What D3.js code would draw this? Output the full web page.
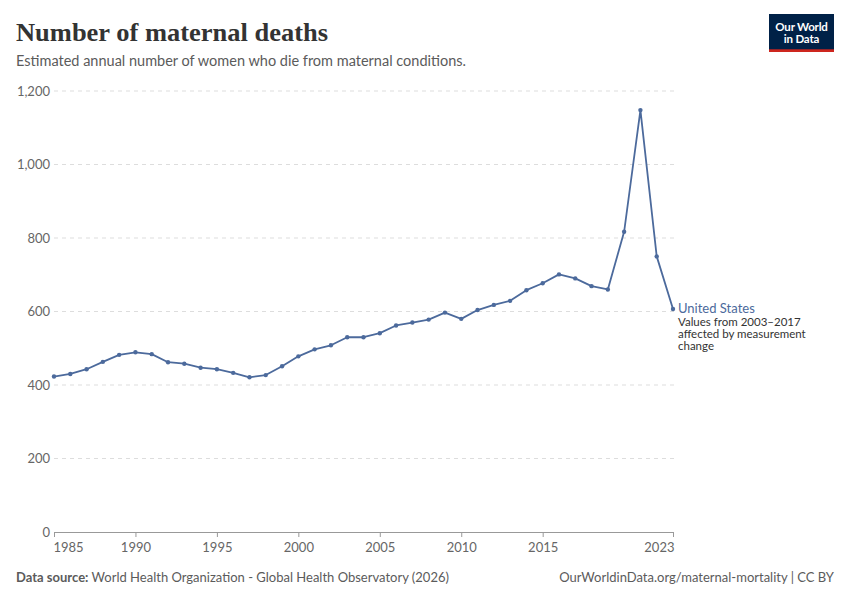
<!DOCTYPE html>
<html><head><meta charset="utf-8">
<script src="https://cdn.jsdelivr.net/npm/d3@7"></script>
<style>body{margin:0;background:#fff}svg{display:block}</style>
</head><body>
<svg id="c" width="850" height="600"></svg>
<script>
const years = d3.range(1985, 2024);
const deaths = [423,430,443,463,482,489,484,462,458,447,443,433,421,427,451,478,497,508,530,530,541,562,570,578,597,580,604,618,629,658,677,701,690,669,660,817,1148,750,607];
const yTicks = [0,200,400,600,800,1000,1200];
const xTicks = [1985,1990,1995,2000,2005,2010,2015,2023];
const seriesName = "United States";
const noteLines = ["Values from 2003–2017","affected by measurement","change"];

const svg = d3.select("#c");
const font = "Lato, 'Noto Sans', sans-serif";
const x = d3.scaleLinear().domain([1985,2023]).range([54,673]);
const y = d3.scaleLinear().domain([0,1200]).range([532,91]);

// title
svg.append("text").attr("x",16).attr("y",41).attr("font-family","'Liberation Serif', 'DejaVu Serif', Georgia, serif")
  .attr("font-size",25).attr("font-weight","bold").attr("fill","#333")
  .attr("textLength",312).attr("lengthAdjust","spacingAndGlyphs").text("Number of maternal deaths");
svg.append("text").attr("x",16).attr("y",66).attr("font-family",font).attr("font-size",14.5).attr("fill","#5b5b5b")
  .text("Estimated annual number of women who die from maternal conditions.");

// logo
const logo = svg.append("g");
logo.append("rect").attr("x",769).attr("y",14).attr("width",65).attr("height",38).attr("fill","#002147");
logo.append("rect").attr("x",769).attr("y",49.3).attr("width",65).attr("height",2.7).attr("fill","#ce261e");
logo.append("text").attr("x",801.5).attr("y",30.5).attr("text-anchor","middle").attr("font-family",font).attr("font-size",11.5).attr("font-weight","bold").attr("fill","#fff").attr("letter-spacing","-0.2").text("Our World");
logo.append("text").attr("x",801.5).attr("y",43).attr("text-anchor","middle").attr("font-family",font).attr("font-size",11.5).attr("font-weight","bold").attr("fill","#fff").attr("letter-spacing","-0.2").text("in Data");

// grid
svg.append("g").selectAll("line").data(yTicks.filter(d=>d>0)).join("line")
  .attr("x1",54).attr("x2",675).attr("y1",d=>y(d)).attr("y2",d=>y(d))
  .attr("stroke","#dddddd").attr("stroke-dasharray","4,4");
svg.append("g").selectAll("text").data(yTicks).join("text")
  .attr("x",50).attr("y",d=>y(d)).attr("dy","0.35em").attr("text-anchor","end")
  .attr("font-family",font).attr("font-size",13).attr("fill","#666")
  .text(d=>d3.format(",")(d));

// x axis
const xa = svg.append("g").attr("transform","translate(0,532)")
  .call(d3.axisBottom(x).tickValues(xTicks).tickFormat(d3.format("d")).tickSize(5).tickSizeOuter(0));
xa.select(".domain").attr("stroke","#999");
xa.selectAll(".tick line").attr("stroke","#999");
xa.selectAll(".tick text").attr("font-family",font).attr("font-size",13).attr("fill","#666").attr("dy","0.9em")
  .attr("text-anchor",d=>d===1985?"start":(d===2023?"end":"middle"))
  .attr("dx",d=>d===1985?"-1":(d===2023?"1":"0"));

// line
const data = years.map((yr,i)=>({yr, v:deaths[i]}));
svg.append("path").datum(data).attr("fill","none").attr("stroke","#4c6a9c").attr("stroke-width",1.8)
  .attr("stroke-linejoin","round")
  .attr("d", d3.line().x(d=>x(d.yr)).y(d=>y(d.v)));
svg.append("g").selectAll("circle").data(data).join("circle")
  .attr("cx",d=>x(d.yr)).attr("cy",d=>y(d.v)).attr("r",2.2).attr("fill","#4c6a9c");

// label
const last = data[data.length-1];
svg.append("text").attr("x",678).attr("y",y(last.v)).attr("dy","0.35em").attr("font-family",font)
  .attr("font-size",13).attr("fill","#4c6a9c").text(seriesName);
svg.append("g").selectAll("text").data(noteLines).join("text")
  .attr("x",678).attr("y",(d,i)=>y(last.v)+17.5+i*12).attr("font-family",font).attr("font-size",11.5)
  .attr("fill","#333").text(d=>d);

// footer
const ft = svg.append("text").attr("x",16).attr("y",582).attr("font-family",font).attr("font-size",13).attr("fill","#5b5b5b");
ft.append("tspan").attr("font-weight","bold").text("Data source: ");
ft.append("tspan").text("World Health Organization - Global Health Observatory (2026)");
svg.append("text").attr("x",834).attr("y",582).attr("text-anchor","end").attr("font-family",font).attr("font-size",13).attr("fill","#5b5b5b")
  .text("OurWorldinData.org/maternal-mortality | CC BY");
</script>
</body></html>
